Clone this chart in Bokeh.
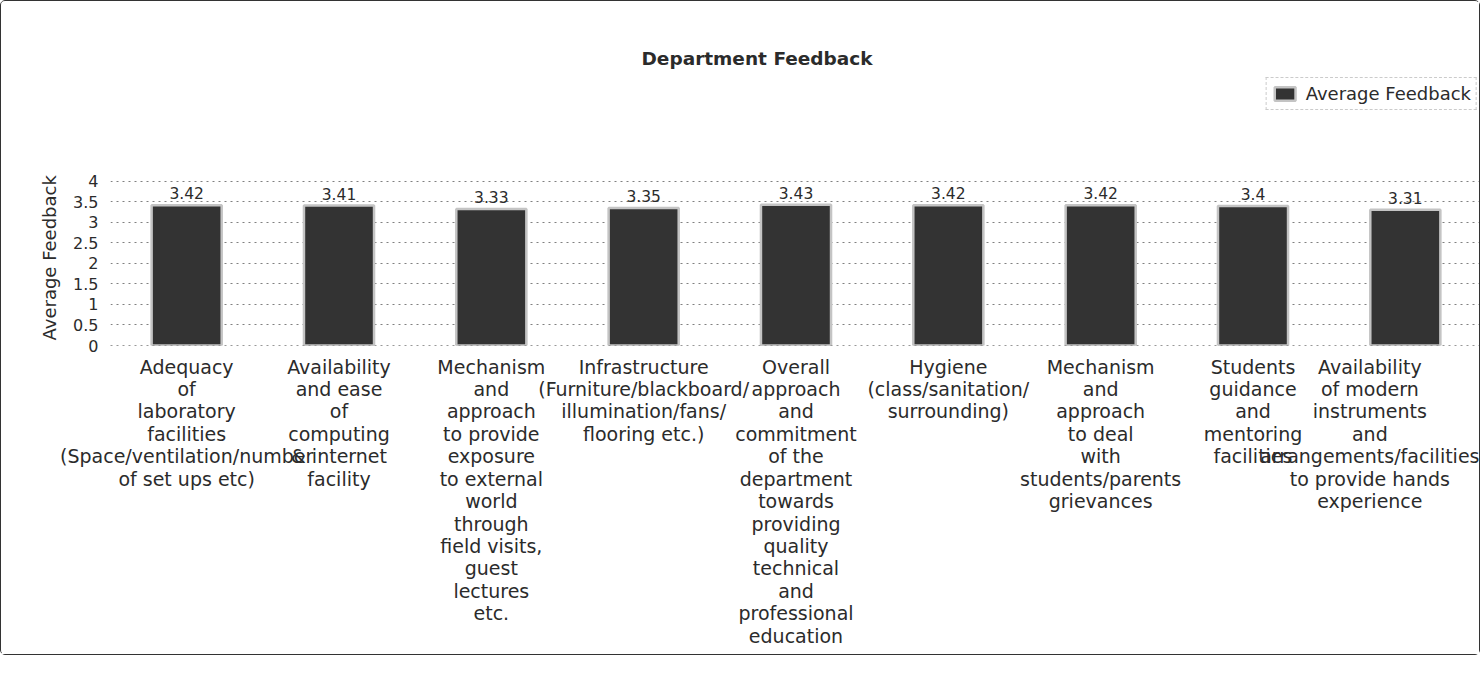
from bokeh.plotting import figure
from bokeh.models import (FactorRange, FixedTicker, NumeralTickFormatter, Legend,
                          LegendItem, Range1d, ColumnDataSource, Title)
from bokeh.core.properties import value
from bokeh.embed import file_html
from bokeh.resources import INLINE

categories = [
    "Adequacy\nof\nlaboratory\nfacilities\n(Space/ventilation/number\nof set ups etc)",
    "Availability\nand ease\nof\ncomputing\n& internet\nfacility",
    "Mechanism\nand\napproach\nto provide\nexposure\nto external\nworld\nthrough\nfield visits,\nguest\nlectures\netc.",
    "Infrastructure\n(Furniture/blackboard/\nillumination/fans/\nflooring etc.)",
    "Overall\napproach\nand\ncommitment\nof the\ndepartment\ntowards\nproviding\nquality\ntechnical\nand\nprofessional\neducation",
    "Hygiene\n(class/sanitation/\nsurrounding)",
    "Mechanism\nand\napproach\nto deal\nwith\nstudents/parents\ngrievances",
    "Students\nguidance\nand\nmentoring\nfacilities",
    "Availability\nof modern\ninstruments\nand\narrangements/facilities\nto provide hands\nexperience",
]
values = [3.42, 3.41, 3.33, 3.35, 3.43, 3.42, 3.42, 3.4, 3.31]
value_labels = ["3.42", "3.41", "3.33", "3.35", "3.43", "3.42", "3.42", "3.4", "3.31"]
y_ticks = [0, 0.5, 1, 1.5, 2, 2.5, 3, 3.5, 4]
series_name = "Average Feedback"
chart_title = "Department Feedback"

FONT = "DejaVu Sans"
TXT = "#2b2b2b"

src = ColumnDataSource(dict(cat=categories, val=values, lbl=value_labels))

p = figure(
    x_range=FactorRange(*categories, range_padding=0),
    y_range=Range1d(0, 6.63),
    width=1480, height=655,
    output_backend="svg", toolbar_location=None,
    title=chart_title,
    min_border_left=109, min_border_right=0,
    min_border_top=72, min_border_bottom=311,
)
p.styles = {"border": "1px solid #333", "border-radius": "5px"}
p.title.align = "left"
p.title.offset = 531
p.title.text_font = FONT
p.title.text_font_size = "18.5px"
p.title.text_font_style = "bold"
p.title.text_color = TXT
p.outline_line_color = None

bars = p.vbar(x="cat", top="val", width=0.46, source=src,
              fill_color="#333333", line_color="#c4c4c4", line_width=2.5)

p.text(x="cat", y="val", text="lbl", source=src, text_align="center",
       text_baseline="bottom", y_offset=-6, text_font_size="15.5px",
       text_color=TXT, text_font=value(FONT))

# y axis
p.yaxis.ticker = FixedTicker(ticks=y_ticks)
p.yaxis.formatter = NumeralTickFormatter(format="0.[0]")
p.yaxis.major_label_text_font = FONT
p.yaxis.major_label_text_font_size = "16px"
p.yaxis.major_label_text_color = TXT
p.yaxis.axis_line_color = None
p.yaxis.major_tick_line_color = None
p.yaxis.minor_tick_line_color = None
p.yaxis.major_label_standoff = 6

# y axis title, placed beside the 0-4 value span
ytitle = Title(text=series_name, align="left", offset=5, standoff=22,
               text_font=FONT, text_font_size="18px", text_font_style="normal",
               text_color=TXT)
p.add_layout(ytitle, "left")

# x axis
p.xaxis.major_label_text_font = FONT
p.xaxis.major_label_text_font_size = "19px"
p.xaxis.major_label_text_line_height = 1.02
p.xaxis.major_label_text_color = TXT
p.xaxis.major_label_orientation = "horizontal"
p.xaxis.axis_line_color = "#999999"
p.xaxis.axis_line_dash = "dotted"
p.xaxis.major_tick_line_color = None
p.xaxis.major_label_standoff = 4

p.xgrid.grid_line_color = None
p.ygrid.ticker = FixedTicker(ticks=y_ticks)
p.ygrid.grid_line_color = "#808080"
p.ygrid.grid_line_dash = "dotted"
p.ygrid.grid_line_width = 1

legend = Legend(items=[LegendItem(label=series_name, renderers=[bars])],
                location="top_right")
legend.margin = 4
legend.padding = 5
legend.label_text_font = FONT
legend.label_text_font_size = "18px"
legend.label_text_color = TXT
legend.glyph_width = 26
legend.glyph_height = 17
legend.label_standoff = 8
legend.border_line_color = "#999999"
legend.border_line_dash = "dotted"
legend.background_fill_color = "white"
p.add_layout(legend)

open("out.html", "w").write(file_html(p, INLINE))
